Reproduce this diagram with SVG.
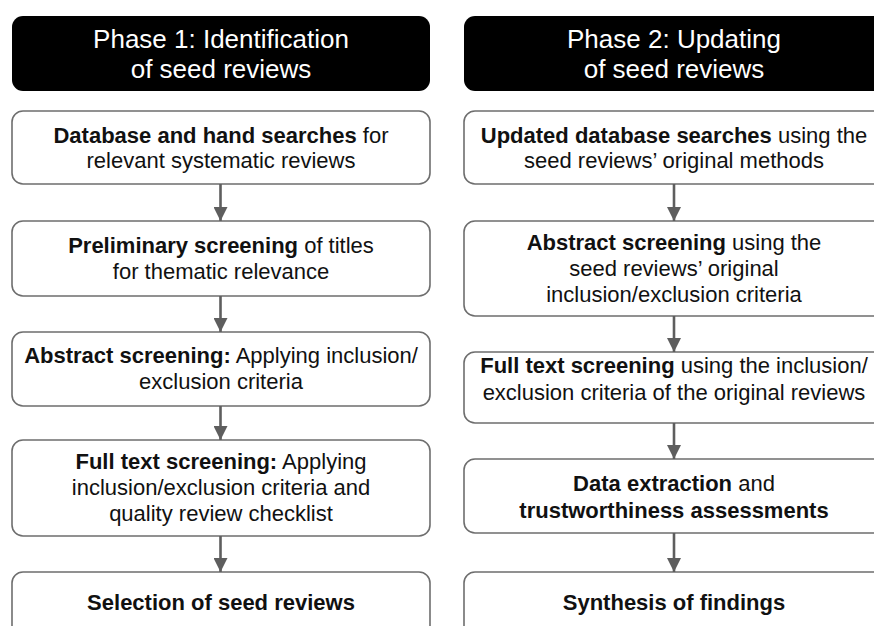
<svg xmlns="http://www.w3.org/2000/svg" width="874" height="626" viewBox="0 0 874 626">
<defs>
<marker id="ah" markerWidth="14" markerHeight="14" viewBox="0 0 14 14" refX="14" refY="7" orient="auto" markerUnits="userSpaceOnUse">
<path d="M0,0 L14,7 L0,14 Z" fill="#5e5e5e"/>
</marker>
<style>
.hdr{fill:#000}
.box{fill:#fff;stroke:#6e6e6e;stroke-width:1.6}
.ht{font-family:"Liberation Sans",Arial,sans-serif;font-size:26px;fill:#fff;text-anchor:middle}
.t{font-family:"Liberation Sans",Arial,sans-serif;font-size:22px;fill:#111;text-anchor:middle}
.b{font-weight:bold}
.c{stroke:#5e5e5e;stroke-width:2.6;fill:none}
</style>
</defs>
<rect width="874" height="626" fill="#fff"/>
<g id="h1">
<rect class="hdr" x="12" y="16" width="418" height="75" rx="11"/>
<text class="ht" x="221" y="48">Phase 1: Identification</text>
<text class="ht" x="221" y="78">of seed reviews</text>
</g>
<g id="h2">
<rect class="hdr" x="464" y="16" width="420" height="75" rx="11"/>
<text class="ht" x="674" y="48">Phase 2: Updating</text>
<text class="ht" x="674" y="78">of seed reviews</text>
</g>
<g id="l1">
<rect class="box" x="12" y="111" width="418" height="73" rx="11"/>
<text class="t" x="221" y="143"><tspan class="b">Database and hand searches</tspan> for</text>
<text class="t" x="221" y="168">relevant systematic reviews</text>
</g>
<g id="l2">
<rect class="box" x="12" y="221" width="418" height="75" rx="11"/>
<text class="t" x="221" y="253"><tspan class="b">Preliminary screening</tspan> of titles</text>
<text class="t" x="221" y="279">for thematic relevance</text>
</g>
<g id="l3">
<rect class="box" x="12" y="332" width="418" height="74" rx="11"/>
<text class="t" x="221" y="363"><tspan class="b">Abstract screening:</tspan> Applying inclusion/</text>
<text class="t" x="221" y="389">exclusion criteria</text>
</g>
<g id="l4">
<rect class="box" x="12" y="440" width="418" height="96" rx="11"/>
<text class="t" x="221" y="469"><tspan class="b">Full text screening:</tspan> Applying</text>
<text class="t" x="221" y="495">inclusion/exclusion criteria and</text>
<text class="t" x="221" y="521">quality review checklist</text>
</g>
<g id="l5">
<rect class="box" x="12" y="572" width="418" height="70" rx="11"/>
<text class="t b" x="221" y="610">Selection of seed reviews</text>
</g>
<g id="r1">
<rect class="box" x="464" y="111" width="420" height="73" rx="11"/>
<text class="t" x="674" y="143"><tspan class="b">Updated database searches</tspan> using the</text>
<text class="t" x="674" y="168">seed reviews’ original methods</text>
</g>
<g id="r2">
<rect class="box" x="464" y="221" width="420" height="95" rx="11"/>
<text class="t" x="674" y="250"><tspan class="b">Abstract screening</tspan> using the</text>
<text class="t" x="674" y="276">seed reviews’ original</text>
<text class="t" x="674" y="302">inclusion/exclusion criteria</text>
</g>
<g id="r3">
<rect class="box" x="464" y="352" width="420" height="71" rx="11"/>
<text class="t" x="674" y="373"><tspan class="b">Full text screening</tspan> using the inclusion/</text>
<text class="t" x="674" y="400">exclusion criteria of the original reviews</text>
</g>
<g id="r4">
<rect class="box" x="464" y="459" width="420" height="74" rx="11"/>
<text class="t" x="674" y="491"><tspan class="b">Data extraction</tspan> and</text>
<text class="t b" x="674" y="518">trustworthiness assessments</text>
</g>
<g id="r5">
<rect class="box" x="464" y="572" width="420" height="70" rx="11"/>
<text class="t b" x="674" y="610">Synthesis of findings</text>
</g>
<g id="connectors">
<line class="c" x1="220.5" y1="184" x2="220.5" y2="221" marker-end="url(#ah)"/>
<line class="c" x1="220.5" y1="296" x2="220.5" y2="332" marker-end="url(#ah)"/>
<line class="c" x1="220.5" y1="406" x2="220.5" y2="440" marker-end="url(#ah)"/>
<line class="c" x1="220.5" y1="536" x2="220.5" y2="572" marker-end="url(#ah)"/>
<line class="c" x1="674" y1="184" x2="674" y2="221" marker-end="url(#ah)"/>
<line class="c" x1="674" y1="316" x2="674" y2="352" marker-end="url(#ah)"/>
<line class="c" x1="674" y1="423" x2="674" y2="459" marker-end="url(#ah)"/>
<line class="c" x1="674" y1="533" x2="674" y2="572" marker-end="url(#ah)"/>
</g>
</svg>
